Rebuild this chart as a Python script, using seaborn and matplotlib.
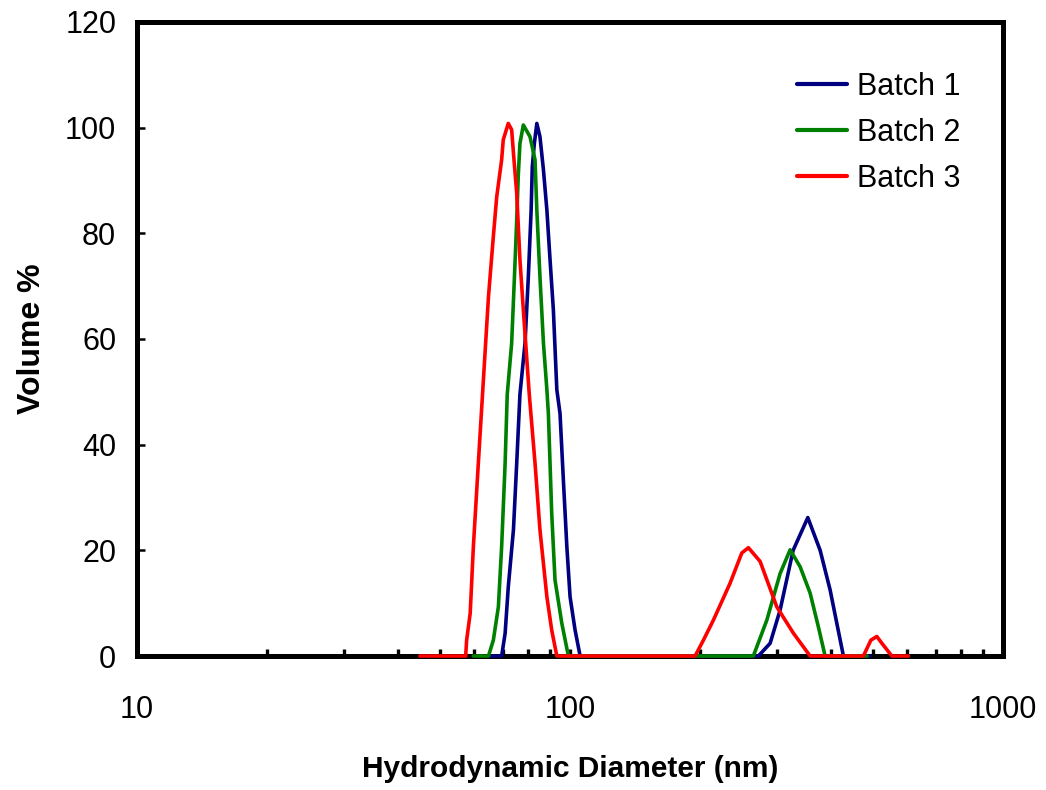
import numpy as np
import pandas as pd
import matplotlib
matplotlib.use("Agg")
import matplotlib.pyplot as plt
import seaborn as sns
from matplotlib.ticker import FixedLocator, NullFormatter

# ---- data (diameter in nm, volume %) ----
batch1_d = [65.3, 69.5, 70.8, 72.0, 74.0, 75.3, 76.6, 78.7, 80.1, 81.3, 81.8, 82.7, 83.8,
            85.2, 86.8, 88.4, 89.9, 91.5, 93.2, 94.8, 96.5, 98.3, 100.0, 102.7, 105.5,
            272.2, 289.7, 305.5, 327.4, 354.0, 378.0, 398.6, 413.0, 427.8, 492.9]
batch1_v = [0, 0, 4.3, 13.1, 23.9, 36.5, 49.5, 59.2, 71.8, 84.4, 92.6, 97.0, 100.8,
            98.3, 92.0, 84.4, 75.0, 65.5, 50.4, 45.9, 33.3, 20.7, 11.2, 4.9, 0,
            0, 2.4, 8.7, 20.0, 26.2, 20.0, 12.5, 6.2, 0, 0]

batch2_d = [59.8, 64.8, 66.5, 68.3, 69.5, 70.8, 71.6, 73.3, 74.4, 75.3, 75.9, 76.6, 78.0,
            80.8, 83.0, 83.8, 85.2, 86.8, 88.4, 89.1, 90.7, 92.3, 95.7, 99.1,
            265.0, 284.7, 305.5, 322.2, 339.8, 358.4, 374.5, 388.1, 485.2]
batch2_v = [0, 0, 3.0, 9.3, 20.7, 36.5, 49.5, 59.2, 71.8, 82.5, 90.7, 97.0, 100.5,
            98.3, 93.9, 84.4, 71.8, 59.2, 50.4, 45.9, 27.0, 14.4, 6.2, 0,
            0, 6.8, 15.6, 20.1, 16.9, 11.9, 5.5, 0, 0]

batch3_d = [45.0, 55.7, 57.4, 57.7, 58.8, 59.8, 61.4, 63.1, 64.8, 66.5, 67.7, 69.5, 70.1,
            72.0, 73.3, 74.0, 75.3, 76.6, 78.0, 80.5, 83.0, 85.2, 88.4, 90.7, 93.2,
            194.4, 203.2, 214.3, 234.2, 249.2, 258.1, 274.7, 300.2, 328.0, 358.4,
            475.7, 495.0, 510.9, 525.0, 553.4, 604.4]
batch3_v = [0, 0, 0, 3.0, 8.1, 20.7, 36.5, 52.5, 68.0, 79.4, 86.9, 93.9, 97.7,
            100.8, 99.6, 95.2, 87.6, 75.0, 65.5, 49.5, 36.5, 23.9, 11.2, 4.9, 0,
            0, 3.0, 6.8, 13.8, 19.5, 20.5, 17.9, 9.3, 4.3, 0,
            0, 3.0, 3.7, 2.4, 0, 0]

series_names = ["Batch 1", "Batch 2", "Batch 3"]
series_colors = ["#000080", "#008000", "#FF0000"]

x_major = [10, 100, 1000]
x_minor = [20, 30, 40, 50, 60, 70, 80, 90, 200, 300, 400, 500, 600, 700, 800, 900]
y_ticks = [0, 20, 40, 60, 80, 100, 120]

# ---- long-form table ----
frames = []
for name, d, v in zip(series_names, [batch1_d, batch2_d, batch3_d],
                      [batch1_v, batch2_v, batch3_v]):
    frames.append(pd.DataFrame({"Diameter": d, "Volume": v, "Batch": name}))
df = pd.concat(frames, ignore_index=True)

sns.set_style("white")
plt.rcParams["font.family"] = ["Liberation Sans", "DejaVu Sans"]
plt.rcParams["text.color"] = "black"
plt.rcParams["xtick.color"] = "black"
plt.rcParams["ytick.color"] = "black"
plt.rcParams["axes.labelcolor"] = "black"

fig = plt.figure(figsize=(10.46, 7.90), dpi=100)
ax = fig.add_axes([0.131, 0.1696, 0.828, 0.8026])

sns.lineplot(data=df, x="Diameter", y="Volume", hue="Batch",
             palette=dict(zip(series_names, series_colors)),
             estimator=None, sort=False, linewidth=2.6, ax=ax)
for ln in ax.get_lines():
    ln.set_zorder(4)
    ln.set_clip_on(False)

ax.set_xscale("log")
ax.set_xlim(10, 1000)
ax.set_ylim(0, 120)

ax.xaxis.set_major_locator(FixedLocator(x_major))
ax.xaxis.set_minor_locator(FixedLocator(x_minor))
ax.xaxis.set_minor_formatter(NullFormatter())
ax.set_xticklabels([str(v) for v in x_major])
ax.set_yticks(y_ticks)

for s in ax.spines.values():
    s.set_visible(True)
    s.set_linewidth(3.6)
    s.set_color("black")
    s.set_zorder(3)

ax.tick_params(axis="x", which="both", direction="in", length=5, width=2.4,
               color="black", bottom=True, top=False, pad=28, labelsize=22)
ax.tick_params(axis="y", which="major", direction="in", length=5.5, width=1.8,
               color="black", left=True, right=False, pad=15, labelsize=22)

ax.set_xlabel("Hydrodynamic Diameter (nm)", fontsize=21.5, fontweight="bold", labelpad=22)
ax.set_ylabel("Volume %", fontsize=23, fontweight="bold", labelpad=13)

leg = ax.legend(loc="upper right", bbox_to_anchor=(0.975, 0.955), frameon=False,
                fontsize=22, handlelength=1.65, handletextpad=0.3, labelspacing=0.52,
                borderaxespad=0.3)
for line in leg.get_lines():
    line.set_linewidth(3.0)

fig.savefig("out.png", dpi=100)
